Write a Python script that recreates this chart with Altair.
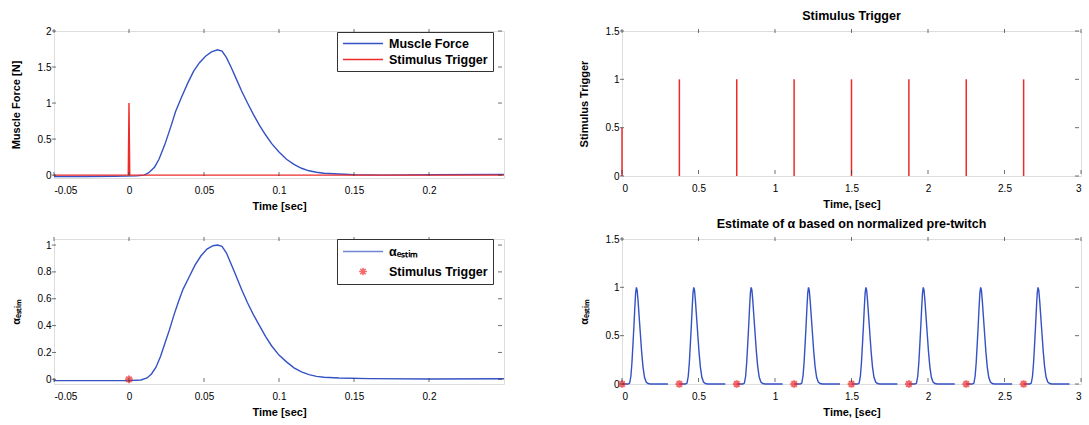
import altair as alt
import pandas as pd

# ---------------- data ----------------
# Top-left: muscle force twitch
force_t = [-0.05, -0.03, -0.01, 0.005, 0.01, 0.013, 0.017, 0.02, 0.024, 0.028, 0.031, 0.035,
           0.039, 0.043, 0.047, 0.051, 0.055, 0.059, 0.062, 0.065, 0.068, 0.071, 0.075, 0.079,
           0.083, 0.087, 0.091, 0.095, 0.1, 0.105, 0.11, 0.115, 0.12, 0.125, 0.13, 0.14, 0.15,
           0.17, 0.2, 0.25]
force_v = [-0.02, -0.02, -0.015, -0.01, 0.0, 0.03, 0.11, 0.22, 0.43, 0.68, 0.88, 1.08,
           1.27, 1.44, 1.56, 1.65, 1.71, 1.74, 1.72, 1.63, 1.50, 1.36, 1.17, 1.0,
           0.84, 0.69, 0.56, 0.44, 0.32, 0.22, 0.15, 0.095, 0.06, 0.04, 0.025, 0.015, 0.005,
           0.0, 0.005, 0.01]
trig_t = [-0.05, -0.0005, 0.0, 0.0005, 0.25]
trig_v = [0.0, 0.0, 1.0, 0.0, 0.0]

# Bottom-left: normalised estimate
alpha_t = [-0.05, -0.02, 0.0, 0.008, 0.012, 0.015, 0.018, 0.021, 0.024, 0.027, 0.030, 0.033,
           0.036, 0.040, 0.044, 0.048, 0.052, 0.056, 0.059, 0.062, 0.065, 0.068, 0.071, 0.075,
           0.079, 0.083, 0.087, 0.091, 0.095, 0.1, 0.105, 0.11, 0.115, 0.12, 0.125, 0.13, 0.14,
           0.16, 0.2, 0.25]
alpha_v = [-0.01, -0.01, -0.01, -0.005, 0.01, 0.04, 0.09, 0.17, 0.27, 0.37, 0.48, 0.58,
           0.67, 0.76, 0.85, 0.92, 0.97, 0.995, 1.0, 0.99, 0.94, 0.86, 0.78, 0.67,
           0.57, 0.48, 0.40, 0.32, 0.25, 0.18, 0.13, 0.085, 0.055, 0.035, 0.022, 0.015, 0.01,
           0.005, 0.002, 0.004]
star_t = [0.0]
star_v = [0.0]

# Right: stimulus train and per-stimulus estimate
stim_times = [0.0, 0.375, 0.75, 1.125, 1.5, 1.875, 2.25, 2.625]
stim_heights = [0.5, 1, 1, 1, 1, 1, 1, 1]
pulse_rel_t = [0.0, 0.04, 0.05, 0.058, 0.065, 0.072, 0.078, 0.084, 0.089, 0.094, 0.099, 0.105,
               0.112, 0.12, 0.128, 0.137, 0.147, 0.158, 0.17, 0.185, 0.3]
pulse_v = [0.0, 0.0, 0.01, 0.08, 0.22, 0.42, 0.60, 0.80, 0.94, 1.0, 0.97, 0.86,
           0.70, 0.52, 0.34, 0.18, 0.07, 0.02, 0.005, 0.0, 0.0]

left_xticks = [-0.05, 0, 0.05, 0.1, 0.15, 0.2]
tl_yticks = [0, 0.5, 1, 1.5, 2]
bl_yticks = [0, 0.2, 0.4, 0.6, 0.8, 1]
right_xticks = [0, 0.5, 1, 1.5, 2, 2.5, 3]
right_yticks = [0, 0.5, 1, 1.5]

ALPHA = "\u03b1\u2091\u209b\u209c\u1d62\u2098"
BLUE = "#3552c4"
RED = "#ee2b2b"
STAR = "M-1,0L1,0M0,-1L0,1M-0.7,-0.7L0.7,0.7M-0.7,0.7L0.7,-0.7"
LBL = "datum.value < 0 ? '-' + format(-datum.value, '~g') : format(datum.value, '~g')"


def xaxis(title, ticks):
    return alt.Axis(title=title, values=ticks, labelExpr=LBL, labelPadding=7, titlePadding=5,
                    labelOverlap=False, grid=False, gridOpacity=0, domain=False, ticks=False)


def yaxis(title, ticks):
    return alt.Axis(title=title, values=ticks, labelExpr=LBL, labelPadding=3, titlePadding=16,
                    labelOverlap=False, grid=False, gridOpacity=0, domain=False, ticks=False)


def inner_ticks(xticks, yticks, w, h, xs, ys, xa, ya):
    dx = pd.DataFrame({"v": xticks})
    dy = pd.DataFrame({"v": yticks})
    ln = 4
    mk = dict(color="#333", thickness=1, size=ln)
    tb = alt.Chart(dx).mark_tick(**mk).encode(
        x=alt.X("v:Q", scale=xs, axis=xa), y=alt.value(h - ln))
    tt = alt.Chart(dx).mark_tick(**mk).encode(
        x=alt.X("v:Q", scale=xs, axis=xa), y=alt.value(0))
    tl = alt.Chart(dy).mark_tick(**mk).encode(
        y=alt.Y("v:Q", scale=ys, axis=ya), x=alt.value(0))
    tr = alt.Chart(dy).mark_tick(**mk).encode(
        y=alt.Y("v:Q", scale=ys, axis=ya), x=alt.value(w - ln))
    return [tb, tt, tl, tr]


# ---------- top-left ----------
W_L, H_TL, H_BL = 450, 147, 145
xs_l = alt.Scale(domain=[-0.05, 0.25], nice=False, zero=False)
ys_tl = alt.Scale(domain=[-0.04, 2.0], nice=False, zero=False)
xa_tl = xaxis("Time [sec]", left_xticks)
ya_tl = yaxis("Muscle Force [N]", tl_yticks)
df_tl = pd.concat([
    pd.DataFrame({"t": force_t, "v": force_v, "s1": "Muscle Force", "o": 0}),
    pd.DataFrame({"t": trig_t, "v": trig_v, "s1": "Stimulus Trigger", "o": 1}),
])
tl_line = alt.Chart(df_tl).mark_line(strokeWidth=1.4).encode(
    x=alt.X("t:Q", scale=xs_l, axis=xa_tl),
    y=alt.Y("v:Q", scale=ys_tl, axis=ya_tl),
    color=alt.Color("s1:N", scale=alt.Scale(domain=["Muscle Force", "Stimulus Trigger"],
                                            range=[BLUE, RED]),
                    legend=alt.Legend(title=None, orient="none", legendX=283, legendY=1,
                                      symbolType="stroke", symbolSize=1600,
                                      symbolStrokeWidth=1.5, labelFontSize=12.5,
                                      labelFontWeight="bold", labelOffset=5,
                                      strokeColor="#333", fillColor="white", padding=5,
                                      rowPadding=3, clipHeight=13)),
    order="o:Q",
)
TL = alt.layer(tl_line, *inner_ticks(left_xticks, tl_yticks, W_L, H_TL, xs_l, ys_tl, xa_tl, ya_tl)).properties(
    width=W_L, height=H_TL)

# ---------- bottom-left ----------
ys_bl = alt.Scale(domain=[-0.035, 1.045], nice=False, zero=False)
xa_bl = xaxis("Time [sec]", left_xticks)
ya_bl = yaxis(ALPHA, bl_yticks)
leg_dom = [ALPHA, "Stimulus Trigger"]
bl_legend = alt.Legend(title=None, orient="none", legendX=283, legendY=0,
                       labelFontSize=12.5, labelFontWeight="bold", labelOffset=5,
                       strokeColor="#333", fillColor="white", padding=5, rowPadding=5,
                       symbolStrokeWidth=1.5, clipHeight=15)
df_bl = pd.DataFrame({"t": alpha_t, "v": alpha_v, "s2": ALPHA})
df_star = pd.DataFrame({"t": star_t, "v": star_v, "s2": "Stimulus Trigger"})
bl_line = alt.Chart(df_bl).mark_line(strokeWidth=1.4).encode(
    x=alt.X("t:Q", scale=xs_l, axis=xa_bl),
    y=alt.Y("v:Q", scale=ys_bl, axis=ya_bl),
    color=alt.Color("s2:N", scale=alt.Scale(domain=leg_dom, range=[BLUE, RED]), legend=bl_legend),
)
bl_star = alt.Chart(df_star).mark_point(filled=False, strokeWidth=2).encode(
    x=alt.X("t:Q", scale=xs_l, axis=xa_bl),
    y=alt.Y("v:Q", scale=ys_bl, axis=ya_bl),
    color=alt.Color("s2:N", scale=alt.Scale(domain=leg_dom, range=[BLUE, RED]), legend=bl_legend),
    shape=alt.Shape("s2:N", scale=alt.Scale(domain=leg_dom, range=["stroke", STAR]), legend=bl_legend),
    size=alt.Size("s2:N", scale=alt.Scale(domain=leg_dom, range=[1600, 60]), legend=bl_legend),
)
BL = alt.layer(bl_line, bl_star, *inner_ticks(left_xticks, bl_yticks, W_L, H_BL, xs_l, ys_bl, xa_bl, ya_bl)).properties(
    width=W_L, height=H_BL)

# ---------- top-right ----------
W_R, H_R = 459, 145
xs_r = alt.Scale(domain=[0, 3], nice=False, zero=False)
ys_r = alt.Scale(domain=[0, 1.5], nice=False, zero=False)
xa_tr = xaxis("Time, [sec]", right_xticks)
ya_tr = yaxis("Stimulus Trigger", right_yticks)
df_tr = pd.DataFrame({"t": stim_times, "h": stim_heights, "z": [0] * len(stim_times)})
tr_rules = alt.Chart(df_tr).mark_rule(color=RED, strokeWidth=1.5).encode(
    x=alt.X("t:Q", scale=xs_r, axis=xa_tr),
    y=alt.Y("z:Q", scale=ys_r, axis=ya_tr),
    y2="h:Q",
)
TR = alt.layer(tr_rules, *inner_ticks(right_xticks, right_yticks, W_R, H_R, xs_r, ys_r, xa_tr, ya_tr)).properties(
    width=W_R, height=H_R,
    title=alt.TitleParams("Stimulus Trigger", fontSize=12.5, fontWeight="bold", offset=4))

# ---------- bottom-right ----------
rows = []
for k, st in enumerate(stim_times):
    for rt, pv in zip(pulse_rel_t, pulse_v):
        rows.append({"t": st + rt, "v": pv, "c": k})
df_br = pd.DataFrame(rows)
xa_br = xaxis("Time, [sec]", right_xticks)
ya_br = yaxis(ALPHA, right_yticks)
br_line = alt.Chart(df_br).mark_line(strokeWidth=1.4, color=BLUE).encode(
    x=alt.X("t:Q", scale=xs_r, axis=xa_br),
    y=alt.Y("v:Q", scale=ys_r, axis=ya_br),
    detail="c:N",
)
df_bstar = pd.DataFrame({"t": stim_times, "v": [0.0] * len(stim_times)})
br_star = alt.Chart(df_bstar).mark_point(filled=False, strokeWidth=2, color=RED, shape=STAR, size=60).encode(
    x=alt.X("t:Q", scale=xs_r, axis=xa_br), y=alt.Y("v:Q", scale=ys_r, axis=ya_br))
BR = alt.layer(br_line, br_star, *inner_ticks(right_xticks, right_yticks, W_R, H_R, xs_r, ys_r, xa_br, ya_br)).properties(
    width=W_R, height=H_R,
    title=alt.TitleParams("Estimate of \u03b1 based on normalized pre-twitch", fontSize=12.5,
                          fontWeight="bold", offset=4))

IND = dict(color="independent", shape="independent", size="independent")
chart = alt.vconcat(
    alt.hconcat(TL, TR, spacing=69).resolve_scale(**IND),
    alt.hconcat(BL, BR, spacing=69).resolve_scale(**IND),
    spacing=5,
).resolve_scale(**IND).properties(
    padding={"left": 9, "top": 9, "right": 0, "bottom": 0},
).configure_view(
    stroke="#3b3b3b", strokeWidth=1,
).configure_axis(
    grid=False, gridOpacity=0,
    labelFont="Liberation Sans", labelFontSize=13.5, labelFontWeight="bold", labelColor="#111",
    titleFont="Liberation Sans", titleFontSize=12.5, titleFontWeight="bold", titleColor="#111",
).configure_legend(
    labelFont="Liberation Sans", labelColor="#111",
).configure_title(
    font="Liberation Sans", color="#111",
).configure(background="white")

chart.save("out.html", embed_options={"renderer": "svg", "actions": False})
